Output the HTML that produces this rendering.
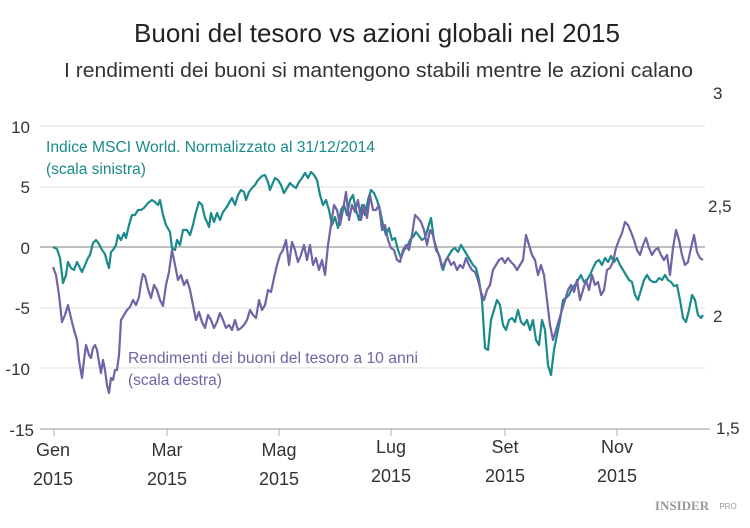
<!DOCTYPE html>
<html><head><meta charset="utf-8"><style>
body{margin:0;background:#fff;}
svg text{font-family:"Liberation Sans",sans-serif;}
</style></head><body>
<svg width="750" height="523" viewBox="0 0 750 523" xmlns="http://www.w3.org/2000/svg">
<text x="134" y="42" font-size="26" fill="#222" textLength="486" lengthAdjust="spacingAndGlyphs">Buoni del tesoro vs azioni globali nel 2015</text>
<text x="64" y="77" font-size="20" fill="#333" textLength="629" lengthAdjust="spacingAndGlyphs">I rendimenti dei buoni si mantengono stabili mentre le azioni calano</text>
<g stroke="#ddd" stroke-width="1">
<line x1="40" x2="705" y1="126" y2="126"/><line x1="40" x2="705" y1="187" y2="187"/>
<line x1="40" x2="705" y1="308" y2="308"/><line x1="40" x2="705" y1="368" y2="368"/>
</g>
<line x1="40" x2="705" y1="247" y2="247" stroke="#999" stroke-width="1.2"/>
<line x1="40" x2="710" y1="429" y2="429" stroke="#bbb" stroke-width="1.5"/>
<g stroke="#bbb" stroke-width="1.2">
<line x1="54" x2="54" y1="429" y2="436"/><line x1="167" x2="167" y1="429" y2="436"/><line x1="279" x2="279" y1="429" y2="436"/><line x1="391" x2="391" y1="429" y2="436"/><line x1="505" x2="505" y1="429" y2="436"/><line x1="617" x2="617" y1="429" y2="436"/>
</g>
<g font-size="17" fill="#333" text-anchor="end">
<text x="30" y="133">10</text><text x="30" y="193">5</text><text x="30" y="254">0</text><text x="30" y="314">-5</text><text x="30" y="375">-10</text><text x="34" y="436">-15</text>
</g>
<g font-size="17" fill="#333">
<text x="713" y="99">3</text><text x="708" y="212">2,5</text><text x="713" y="322">2</text><text x="716" y="434">1,5</text>
</g>
<g font-size="18" fill="#333" text-anchor="middle">
<text x="53" y="456">Gen</text><text x="53" y="485">2015</text>
<text x="167" y="456">Mar</text><text x="167" y="485">2015</text>
<text x="279" y="456">Mag</text><text x="279" y="485">2015</text>
<text x="391" y="453">Lug</text><text x="391" y="482">2015</text>
<text x="505" y="453">Set</text><text x="505" y="482">2015</text>
<text x="617" y="453">Nov</text><text x="617" y="482">2015</text>
</g>
<text x="682" y="510" font-size="13" font-weight="bold" fill="#999" style="font-family:'Liberation Serif',serif" text-anchor="middle">INSIDER</text>
<text x="728" y="509" font-size="8" fill="#999" text-anchor="middle">PRO</text>
<text x="46" y="152" font-size="15.5" fill="#1a8a8a" textLength="329" lengthAdjust="spacingAndGlyphs">Indice MSCI World. Normalizzato al 31/12/2014</text>
<text x="46" y="174" font-size="15.5" fill="#1a8a8a">(scala sinistra)</text>
<text x="128" y="363" font-size="15.5" fill="#7262a6" textLength="290" lengthAdjust="spacingAndGlyphs">Rendimenti dei buoni del tesoro a 10 anni</text>
<text x="128" y="385" font-size="15.5" fill="#7262a6">(scala destra)</text>
<polyline fill="none" stroke="#1a8a8a" stroke-width="2.2" stroke-linejoin="round" points="53,247 57,249 60,258 63,283 66,275 68,262 71,268 74,270 77,262 80,268 82,272 85,265 88,258 90,255 93,243 96,240 99,244 102,250 105,254 107,262 109,268 111,252 113,250 116,245 118,235 121,240 124,233 126,238 129,225 132,215 135,215 138,210 141,210 144,208 148,203 152,200 155,202 158,205 160,200 163,215 166,225 170,232 172,248 175,250 177,240 180,245 183,230 187,230 190,235 193,225 196,212 199,202 202,205 205,218 207,222 209,227 211,213 214,222 217,213 220,220 223,212 226,208 229,203 232,198 235,205 238,195 241,190 244,192 246,200 249,192 252,188 255,185 258,180 262,176 265,175 268,182 270,190 272,185 275,178 278,180 281,185 284,193 287,188 290,183 293,186 296,188 299,182 302,178 305,173 308,178 311,172 314,175 317,180 320,195 323,205 326,200 329,210 332,225 335,217 338,228 341,210 344,205 347,215 350,200 353,195 356,210 359,220 362,205 365,215 368,200 371,190 374,193 377,200 380,210 383,225 386,235 389,228 392,240 395,238 398,250 401,258 404,250 407,247 410,240 413,237 416,232 419,236 422,240 425,238 428,228 431,218 434,240 437,250 440,258 443,270 446,260 449,255 452,250 455,248 458,252 461,245 464,250 467,255 470,260 473,265 476,268 479,280 482,300 485,348 488,350 491,320 494,310 497,300 500,305 503,325 506,330 509,320 512,318 515,322 518,310 521,322 524,325 527,320 530,330 533,320 536,340 539,345 542,320 545,330 548,365 551,375 554,350 557,335 560,320 563,300 566,298 569,295 572,288 575,285 578,280 581,275 584,282 587,280 590,275 593,268 596,262 599,260 602,265 605,258 608,262 611,256 614,262 617,258 620,265 623,270 626,275 629,280 632,282 635,295 638,300 641,290 644,280 647,275 650,280 653,282 656,282 659,278 662,280 665,275 668,280 671,282 674,286 677,285 680,300 683,318 686,322 689,310 692,295 695,300 698,315 701,318 703,315"/>
<polyline fill="none" stroke="#7262a6" stroke-width="2.2" stroke-linejoin="round" points="53,267 56,275 59,295 62,322 65,315 68,305 71,318 74,330 77,340 79,360 82,378 84,360 86,345 89,355 91,358 93,348 95,345 97,350 99,362 101,373 103,360 105,370 107,385 109,393 111,378 113,380 115,370 117,370 119,355 121,320 124,315 127,310 130,307 133,300 136,305 139,297 141,283 143,274 145,276 148,289 151,298 154,285 157,290 160,300 163,306 166,285 169,272 172,250 175,265 178,280 181,275 184,285 187,280 190,290 193,305 196,320 199,312 202,322 205,328 208,315 211,320 214,328 217,322 220,313 223,320 226,328 229,325 232,330 235,320 238,330 241,328 244,325 247,320 250,310 253,315 256,318 259,300 262,310 265,305 268,290 271,292 274,278 277,265 280,255 283,250 286,240 289,265 292,242 295,250 298,262 301,255 304,245 307,260 310,245 313,265 316,258 319,270 322,260 325,275 328,245 331,225 334,205 337,210 340,225 343,210 346,192 349,220 352,205 355,212 358,200 361,220 364,205 367,218 370,195 373,210 376,210 379,205 382,230 385,225 388,240 391,248 394,250 397,260 400,262 403,250 406,245 409,250 412,235 415,215 418,218 421,222 424,230 427,245 430,230 433,235 436,250 439,255 442,268 445,262 448,258 451,265 454,262 457,270 460,265 463,268 466,258 469,265 472,270 475,272 478,280 481,292 484,300 487,290 490,285 493,270 496,265 499,260 502,258 505,263 508,258 511,262 514,265 517,270 520,265 523,260 526,235 529,245 532,255 535,260 538,275 541,265 544,275 547,300 550,325 553,340 556,330 559,320 562,310 565,300 568,290 571,285 574,292 577,280 580,300 583,290 586,280 589,290 592,275 595,285 598,282 601,295 604,290 607,270 610,268 613,262 616,248 619,240 622,233 625,222 628,225 631,232 634,240 637,250 640,255 643,245 646,238 649,248 652,255 655,250 658,248 661,255 664,260 667,255 670,275 673,248 676,230 679,240 682,255 685,265 688,262 691,248 694,235 697,252 700,258 703,260"/>
</svg>
</body></html>
